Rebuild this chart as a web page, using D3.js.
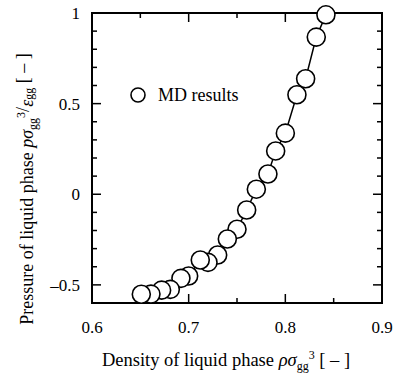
<!DOCTYPE html>
<html>
<head>
<meta charset="utf-8">
<script src="https://cdn.jsdelivr.net/npm/d3@7"></script>
<style>
  body { margin: 0; background: #fff; }
  svg { display: block; font-family: "Liberation Serif", "Times New Roman", serif; }
</style>
</head>
<body>
<svg id="chart" width="396" height="376"></svg>
<script>
// MD results
var density = [0.842, 0.832, 0.821, 0.812, 0.800, 0.790, 0.782, 0.770, 0.760, 0.750,
               0.740, 0.730, 0.720, 0.712, 0.700, 0.692, 0.681, 0.672, 0.661, 0.651];
var pressure = [0.99, 0.867, 0.637, 0.549, 0.337, 0.239, 0.112, 0.028, -0.087, -0.193,
                -0.247, -0.335, -0.376, -0.363, -0.451, -0.464, -0.525, -0.529, -0.551, -0.552];

var xTicks = [0.6, 0.7, 0.8, 0.9];
var xMinor = [0.65, 0.75, 0.85];
var yTicks = [-0.5, 0, 0.5, 1];
var yTickLabels = ['\u20130.5', '0', '0.5', '1'];
var yMinor = [-0.6, -0.4, -0.3, -0.2, -0.1, 0.1, 0.2, 0.3, 0.4, 0.6, 0.7, 0.8, 0.9];

var svg = d3.select('#chart');
var frame = { left: 92, right: 382, top: 13, bottom: 303 };

var x = d3.scaleLinear().domain([0.6, 0.9]).range([frame.left, frame.right]);
var y = d3.scaleLinear().domain([-0.6, 1]).range([frame.bottom, frame.top]);

var major = 9, minor = 5;

// ticks pointing inwards, on all four sides
var ticks = svg.append('g').attr('stroke', '#000').attr('stroke-width', 1.5);

xTicks.concat(xMinor).forEach(function(v) {
  var len = xMinor.indexOf(v) >= 0 ? minor : major;
  ticks.append('line').attr('x1', x(v)).attr('x2', x(v)).attr('y1', frame.bottom).attr('y2', frame.bottom - len);
  ticks.append('line').attr('x1', x(v)).attr('x2', x(v)).attr('y1', frame.top).attr('y2', frame.top + len);
});
yTicks.concat(yMinor).forEach(function(v) {
  var len = yMinor.indexOf(v) >= 0 ? minor : major;
  ticks.append('line').attr('y1', y(v)).attr('y2', y(v)).attr('x1', frame.left).attr('x2', frame.left + len);
  ticks.append('line').attr('y1', y(v)).attr('y2', y(v)).attr('x1', frame.right).attr('x2', frame.right - len);
});

svg.append('rect')
  .attr('x', frame.left).attr('y', frame.top)
  .attr('width', frame.right - frame.left).attr('height', frame.bottom - frame.top)
  .attr('fill', 'none').attr('stroke', '#000').attr('stroke-width', 2);

// tick labels
svg.append('g').selectAll('text')
  .data(xTicks)
  .enter().append('text')
    .attr('x', function(d) { return x(d); })
    .attr('y', 333)
    .attr('text-anchor', 'middle')
    .attr('font-size', 17)
    .text(function(d) { return d3.format('.1f')(d); });

svg.append('g').selectAll('text')
  .data(yTicks)
  .enter().append('text')
    .attr('x', 80)
    .attr('y', function(d) { return y(d) + 6; })
    .attr('text-anchor', 'end')
    .attr('font-size', 17)
    .text(function(d, i) { return yTickLabels[i]; });

// data line + markers
var pts = density.map(function(d, i) { return [d, pressure[i]]; });

svg.append('path')
  .datum(pts)
  .attr('fill', 'none')
  .attr('stroke', '#000')
  .attr('stroke-width', 1.5)
  .attr('d', d3.line()
    .x(function(d) { return x(d[0]); })
    .y(function(d) { return y(d[1]); }));

svg.append('g').selectAll('circle')
  .data(pts)
  .enter().append('circle')
    .attr('cx', function(d) { return x(d[0]); })
    .attr('cy', function(d) { return y(d[1]); })
    .attr('r', 9)
    .attr('fill', '#fff')
    .attr('stroke', '#000')
    .attr('stroke-width', 1.6);

// legend
svg.append('circle')
  .attr('cx', 138).attr('cy', 95).attr('r', 7)
  .attr('fill', '#fff').attr('stroke', '#000').attr('stroke-width', 1.6);
svg.append('text')
  .attr('x', 158).attr('y', 101)
  .attr('font-size', 18)
  .text('MD results');

// x axis title
var xt = svg.append('text')
  .attr('x', 226).attr('y', 366)
  .attr('text-anchor', 'middle')
  .attr('font-size', 18.5);
xt.append('tspan').text('Density of liquid phase ');
xt.append('tspan').attr('font-style', 'italic').text('\u03c1\u03c3');
xt.append('tspan').attr('font-size', 12).attr('dy', 4).text('gg');
xt.append('tspan').attr('font-size', 12).attr('dy', -11).text('3');
xt.append('tspan').attr('dy', 7).text(' [ \u2013 ]');

// y axis title
var yt = svg.append('text')
  .attr('transform', 'translate(33,189) rotate(-90)')
  .attr('text-anchor', 'middle')
  .attr('font-size', 18);
yt.append('tspan').text('Pressure of liquid phase ');
yt.append('tspan').attr('font-style', 'italic').text('p\u03c3');
yt.append('tspan').attr('font-size', 12).attr('dy', 4).text('gg');
yt.append('tspan').attr('font-size', 12).attr('dy', -12).text('3');
yt.append('tspan').attr('dy', 4).text('/');
yt.append('tspan').attr('font-style', 'italic').attr('dy', 4).text('\u03b5');
yt.append('tspan').attr('font-size', 12).attr('dy', 0).text('gg');
yt.append('tspan').attr('dy', -4).text(' [ \u2013 ]');
</script>
</body>
</html>
